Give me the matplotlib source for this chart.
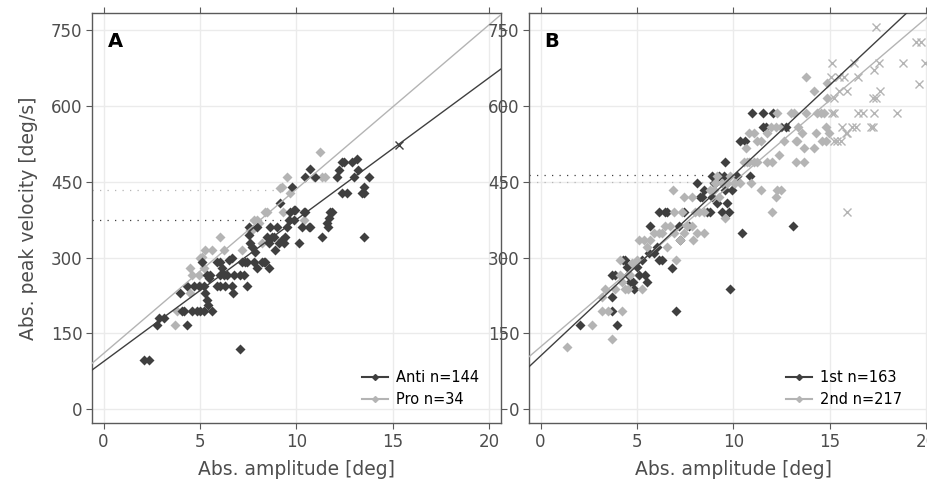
import numpy as np
import matplotlib
matplotlib.use("Agg")
import matplotlib.pyplot as plt
from matplotlib.lines import Line2D

# ---------------- data ----------------
# Panel A: anti-saccades (dark)
anti_x = [2.08, 2.37, 2.77, 2.89, 3.15, 3.94, 4.33, 4.07, 4.15, 4.33, 4.67, 4.93,
          4.6, 4.84, 5.02, 5.19, 5.62, 5.19, 5.28, 5.36, 5.42,
          5.1, 5.36, 5.54, 5.48, 5.88, 6.06, 6.14, 6.06, 6.23, 6.4, 6.49, 6.66,
          5.88, 6.06, 6.31, 6.66, 6.71, 6.75, 7.09, 7.27, 7.06,
          7.18, 7.35, 7.44, 7.44,
          7.53, 7.53, 7.61, 7.7, 7.79, 7.87, 7.96, 7.96, 8.22, 8.3, 8.39, 8.48, 8.56,
          8.65, 8.56, 8.74, 8.82, 8.91, 9.0, 9.12, 9.26, 9.34, 9.43, 9.52, 9.6, 9.69,
          9.86, 9.95, 9.86, 10.12, 10.29, 10.38, 10.47, 10.64, 10.73,
          9.78, 9.13, 10.47, 10.69, 10.99,
          11.33, 11.59, 11.63, 11.68, 11.76, 11.85,
          12.11, 12.2, 12.37, 12.46, 12.89, 13.15, 13.2, 12.98, 13.75,
          12.37, 12.63, 13.41, 13.49, 13.53, 13.49]
anti_y = [97.5, 97.5, 166.7, 179.8, 179.8, 229.2, 166.7, 194.3, 194.3, 243.7, 243.7, 243.7,
          194.3, 194.3, 194.3, 194.3, 194.3, 243.7, 229.2, 216.1, 206.2,
          291.8, 265.5, 265.5, 258.9, 291.8, 291.8, 278.7, 265.5, 265.5, 265.5, 295.1, 298.4,
          243.7, 243.7, 243.7, 243.7, 229.2, 265.5, 265.5, 265.5, 118.6,
          291.8, 291.8, 291.8, 243.7,
          361.0, 344.5, 328.1, 321.5, 291.8, 311.6, 278.7, 361.0, 291.8, 291.8, 291.8, 341.2, 278.7,
          361.0, 328.1, 341.2, 341.2, 314.9, 361.0, 328.1, 334.7, 328.1, 341.2, 361.0, 374.2, 390.6,
          393.9, 393.9, 374.2, 328.1, 361.0, 390.6, 390.6, 361.0, 361.0,
          440.0, 407.1, 459.8, 474.3, 459.8,
          341.2, 367.6, 361.0, 377.5, 390.6, 390.6,
          459.8, 473.0, 489.5, 489.5, 489.5, 494.1, 473.0, 459.8, 459.8,
          426.9, 426.9, 426.9, 440.0, 426.9, 341.2]

# Panel A: pro-saccades (light)
pro_x = [3.72, 3.81, 4.5, 4.5, 4.58, 4.93, 5.02, 5.02, 5.1, 5.19, 5.28, 5.62, 6.06, 6.26,
         7.18, 7.61, 7.7, 7.79, 7.96, 8.04, 8.22, 8.39, 8.48, 9.13, 9.26, 9.31, 9.52, 9.69,
         10.38, 10.9, 11.25, 11.33, 11.5]
pro_y = [166.7, 194.3, 229.2, 278.7, 265.5, 265.5, 243.7, 298.4, 301.7, 278.7, 314.9, 314.9,
         341.2, 314.9, 314.9, 354.4, 354.4, 374.2, 374.2, 367.6, 328.1, 390.6, 390.6, 436.8,
         440.0, 390.6, 459.8, 426.9, 374.2, 459.8, 509.2, 459.8, 459.8]

# Panel B: 1st saccades (dark)
first_x = [2.05, 3.69, 3.69, 3.99, 3.69, 3.87, 4.3, 4.48, 4.39, 4.56, 4.82, 4.86, 5.08, 5.43,
           5.52, 5.6, 5.69, 5.86, 6.04, 6.12, 6.12, 6.3, 6.56, 6.82, 7.03, 7.16, 7.22, 7.42,
           7.68, 8.12, 8.29, 8.38, 8.64, 8.81, 8.9, 8.9, 8.99, 9.16, 9.25, 9.42, 9.51, 9.59,
           9.68, 9.77, 9.85, 9.94, 10.2, 9.56, 10.37, 10.46, 10.63, 10.86, 10.98, 11.54, 11.54,
           11.67, 12.07, 12.71, 13.11, 4.65, 5.0, 5.26, 6.47, 8.46, 9.07]
first_y = [166.7, 194.3, 222.7, 166.7, 265.5, 265.5, 295.1, 282.0, 295.1, 265.5, 252.3, 237.2,
           265.5, 265.5, 252.3, 308.3, 362.3, 308.3, 321.5, 390.6, 295.1, 295.1, 390.6, 278.7,
           194.3, 362.3, 334.7, 390.6, 362.3, 446.6, 420.3, 420.3, 390.6, 390.6, 461.1, 420.3,
           446.6, 407.1, 461.1, 390.6, 461.1, 433.5, 407.1, 390.6, 237.2, 433.5, 461.1, 488.1,
           531.0, 347.8, 531.0, 461.1, 586.3, 586.3, 558.6, 558.6, 586.3, 558.6, 362.3,
           252.3, 282.0, 295.1, 390.6, 433.5, 446.6]

# Panel B: 2nd saccades (light)
second_x = [1.35, 2.65, 3.69, 3.17, 3.52, 4.22, 3.17, 3.35, 3.87, 4.22, 4.39, 4.56, 4.13, 4.65,
            4.13, 4.74, 5.0, 5.26, 5.08, 5.34, 5.52, 5.69, 5.86, 6.12, 6.3, 6.47, 6.56, 6.73,
            6.9, 7.03, 7.25, 7.42, 7.6, 7.86, 7.91, 8.12, 8.46, 6.9, 6.85, 7.34, 7.42, 7.86,
            8.03, 8.2, 8.46, 8.81, 8.99, 9.07, 9.16, 9.25, 9.42, 9.59, 9.68, 9.85, 10.03, 10.11,
            10.37, 10.55, 10.72, 10.89, 10.81, 11.07, 11.24, 11.45, 11.73, 12.02, 12.02, 12.19,
            12.28, 12.49, 12.37, 10.67, 10.81, 11.07, 11.24, 11.41, 11.76, 11.93, 12.19, 12.28,
            12.45, 12.63, 12.97, 13.15, 13.24, 13.32, 13.36, 13.58, 13.67, 13.76, 13.76, 14.19,
            14.19, 14.28, 14.36, 14.54, 14.62, 14.8, 14.8, 14.71, 14.88, 14.97, 14.88, 13.24, 13.67]
second_y = [123.8, 166.7, 138.3, 194.3, 194.3, 194.3, 222.7, 237.2, 237.2, 252.3, 237.2, 237.2,
            295.1, 265.5, 265.5, 289.0, 295.1, 237.2, 334.7, 334.7, 321.5, 334.7, 347.8, 347.8,
            347.8, 362.3, 321.5, 362.3, 347.8, 295.1, 334.7, 347.8, 362.3, 362.3, 334.7, 347.8,
            347.8, 390.6, 433.5, 390.6, 420.3, 420.3, 390.6, 390.6, 390.6, 433.5, 433.5, 446.6,
            461.1, 420.3, 446.6, 377.5, 446.6, 461.1, 446.6, 448.0, 446.6, 489.5, 489.5, 446.6,
            489.5, 489.5, 489.5, 433.5, 489.5, 488.1, 390.6, 420.3, 433.5, 433.5, 502.6, 517.1,
            545.5, 545.5, 531.0, 531.0, 545.5, 558.6, 558.6, 586.3, 558.6, 531.0, 586.3, 586.3,
            531.0, 531.0, 558.6, 545.5, 517.1, 586.3, 657.5, 629.8, 517.1, 545.5, 586.3, 586.3,
            531.0, 531.0, 558.6, 586.3, 614.6, 545.5, 644.3, 489.5, 489.5]

# Panel B: excluded points (light crosses)
excl_x = [17.4, 19.48, 19.74, 15.14, 16.27, 17.57, 18.79, 19.95, 15.06, 15.49, 15.75, 16.44,
          17.31, 19.65, 15.23, 15.49, 15.92, 17.61, 17.22, 17.4, 15.14, 15.23, 16.44, 16.7,
          17.31, 18.49, 15.66, 16.18, 16.36, 17.14, 17.22, 15.84, 15.92, 15.23, 15.4, 15.58, 15.92]
excl_y = [755.0, 726.6, 726.6, 685.1, 685.1, 685.1, 685.1, 685.1, 657.5, 657.5, 657.5, 657.5,
          670.6, 643.0, 614.6, 629.8, 629.8, 629.8, 614.6, 614.6, 586.3, 586.3, 586.3, 586.3,
          586.3, 586.3, 558.6, 558.6, 558.6, 558.6, 558.6, 545.5, 545.5, 531.0, 531.0, 531.0, 391.0]

# regression fits (intercept, slope)
fit_anti = (94.5, 28.06)
fit_pro = (110.4, 32.5)
fit_first = (105.6, 35.7)
fit_second = (123.5, 32.5)

# markers on fit lines (x, y)
mark_A = ([15.3], [522.0])
mark_B = ([12.7], [559.0])

# dotted reference levels: (level, x end)
dots_A = [(374.0, 9.3, "dark"), (433.0, 9.2, "light")]
dots_B = [(463.0, 10.2, "dark"), (450.0, 10.9, "light")]

labels_A = ["Anti n=144", "Pro n=34"]
labels_B = ["1st n=163", "2nd n=217"]
xticks = [0, 5, 10, 15, 20]
yticks = [0, 150, 300, 450, 600, 750]

# ---------------- style ----------------
DARK = "#3f3f3f"
LIGHT = "#b4b4b4"
GRID = "#ebebeb"
FRAME = "#5a5a5a"
TXT = "#4d4d4d"
XLIM = (-0.6, 20.6)
YLIM = (-27, 783)

plt.rcParams["font.family"] = ["DejaVu Sans"]

fig = plt.figure(figsize=(9.28, 4.84), dpi=100)
W, H = 928, 484


def make_ax(left_px):
    ax = fig.add_axes([left_px / W, 1 - 423 / H, 408.7 / W, (423 - 13.3) / H])
    ax.set_xlim(*XLIM)
    ax.set_ylim(*YLIM)
    ax.set_xticks(xticks)
    ax.set_yticks(yticks)
    ax.grid(True, color=GRID, lw=1.0)
    ax.set_axisbelow(True)
    for s in ax.spines.values():
        s.set_color(FRAME)
        s.set_linewidth(1.0)
    ax.tick_params(direction="out", length=4, width=0.8, color=FRAME,
                   labelsize=12, labelcolor=TXT, top=True, right=True,
                   pad=3)
    ax.set_xlabel("Abs. amplitude [deg]", fontsize=13.5, color=TXT, labelpad=7)
    return ax


def draw_fit(ax, fit, color):
    xs = np.array(XLIM)
    ax.plot(xs, fit[0] + fit[1] * xs, color=color, lw=1.0, zorder=4)


def draw_dots(ax, dots):
    for lvl, xe, c in dots:
        ax.plot([XLIM[0], xe], [lvl, lvl], color=DARK if c == "dark" else LIGHT,
                lw=0.9, ls=(0, (1, 5)), zorder=1)


ms = 5.6

# Panel A
axA = make_ax(92)
axA.set_ylabel("Abs. peak velocity [deg/s]", fontsize=13.5, color=TXT, labelpad=9)
draw_dots(axA, dots_A)
axA.plot(pro_x, pro_y, ls="none", marker="D", ms=ms, color=LIGHT, mec="none", zorder=2)
axA.plot(anti_x, anti_y, ls="none", marker="D", ms=ms, color=DARK, mec="none", zorder=3)
draw_fit(axA, fit_pro, LIGHT)
draw_fit(axA, fit_anti, DARK)
axA.plot(*mark_A, ls="none", marker="x", ms=6, color=DARK, mew=1.0, zorder=5)
axA.text(0.038, 0.955, "A", transform=axA.transAxes, fontsize=14, fontweight="bold",
         va="top", ha="left")
hA = [Line2D([], [], color=DARK, lw=1.5, marker="D", ms=3),
      Line2D([], [], color=LIGHT, lw=1.5, marker="D", ms=3)]
axA.legend(hA, labels_A, loc="lower right", frameon=False, fontsize=10.5,
           handlelength=1.8, handletextpad=0.5, labelspacing=0.45,
           borderpad=0, borderaxespad=0,
           bbox_to_anchor=(1 - 22 / 408.7, 16 / 409.7))

# Panel B
axB = make_ax(529)
draw_dots(axB, dots_B)
axB.plot(first_x, first_y, ls="none", marker="D", ms=ms, color=DARK, mec="none", zorder=2)
axB.plot(second_x, second_y, ls="none", marker="D", ms=ms, color=LIGHT, mec="none", zorder=3)
axB.plot(excl_x, excl_y, ls="none", marker="x", ms=6, color=LIGHT, mew=1.0, zorder=3)
draw_fit(axB, fit_second, LIGHT)
draw_fit(axB, fit_first, DARK)
axB.plot(*mark_B, ls="none", marker="x", ms=6, color=DARK, mew=1.0, zorder=5)
axB.text(0.038, 0.955, "B", transform=axB.transAxes, fontsize=14, fontweight="bold",
         va="top", ha="left")
hB = [Line2D([], [], color=DARK, lw=1.5, marker="D", ms=3),
      Line2D([], [], color=LIGHT, lw=1.5, marker="D", ms=3)]
axB.legend(hB, labels_B, loc="lower right", frameon=False, fontsize=10.5,
           handlelength=1.8, handletextpad=0.5, labelspacing=0.45,
           borderpad=0, borderaxespad=0,
           bbox_to_anchor=(1 - 36 / 408.7, 16 / 409.7))

fig.savefig("out.png", dpi=100)
